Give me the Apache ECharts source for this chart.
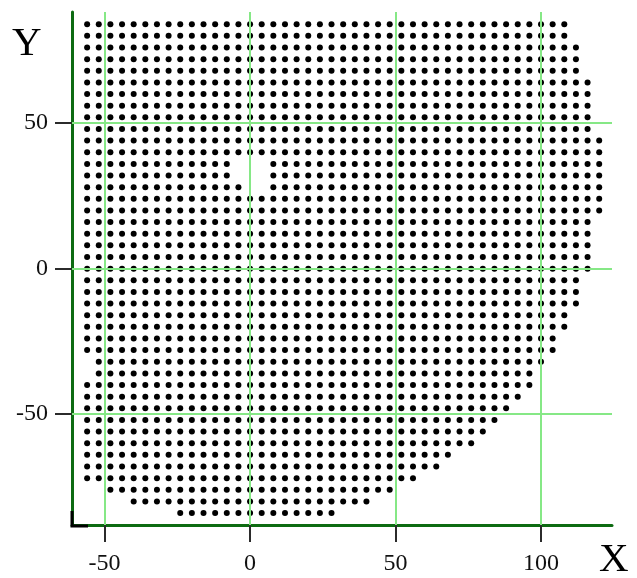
<!DOCTYPE html>
<html>
<head>
<meta charset="utf-8">
<script src="https://cdn.jsdelivr.net/npm/echarts@6/dist/echarts.min.js"></script>
<style>
  html, body { margin: 0; padding: 0; background: #ffffff; }
  #chart { width: 637px; height: 578px; }
</style>
</head>
<body>
<div id="chart"></div>
<script>
// Grid of points, step 4 units; each row: y value, first x, last x
const gridStep = 4;
const rowY    = [84, 80, 76, 72, 68, 64, 60, 56, 52, 48, 44, 40, 36, 32, 28, 24, 20, 16, 12, 8, 4, 0,
                 -4, -8, -12, -16, -20, -24, -28, -32, -36, -40, -44, -48, -52, -56, -60, -64, -68, -72, -76, -80, -84];
const rowXMin = [-56, -56, -56, -56, -56, -56, -56, -56, -56, -56, -56, -56, -56, -56, -56, -56, -56, -56, -56, -56, -56, -56,
                 -56, -56, -56, -56, -56, -56, -56, -52, -52, -56, -56, -56, -56, -56, -56, -56, -56, -56, -48, -40, -24];
const rowXMax = [108, 108, 112, 112, 112, 116, 116, 116, 116, 116, 120, 120, 120, 120, 120, 120, 120, 116, 116, 116, 116, 116,
                 112, 112, 112, 108, 108, 104, 104, 100, 96, 96, 92, 88, 84, 80, 76, 68, 64, 56, 48, 40, 28];
// Missing points (the small gap near x = 0)
const holeX = [-4, 0, 4, -4, 0, 4, 0, 4];
const holeY = [36, 36, 36, 32, 32, 32, 28, 28];

// Axis ticks / grid lines
const xTicks = [-50, 0, 50, 100];
const yTicks = [-50, 0, 50];
const xRange = [-61.2, 124.4];
const yRange = [-88.1, 88.2];

const points = [];
for (let r = 0; r < rowY.length; r++) {
  for (let x = rowXMin[r]; x <= rowXMax[r]; x += gridStep) {
    let isHole = false;
    for (let h = 0; h < holeX.length; h++) {
      if (holeX[h] === x && holeY[h] === rowY[r]) { isHole = true; break; }
    }
    if (!isHole) points.push([x, rowY[r]]);
  }
}

const FONT = 'Liberation Serif';
const axisGreen = '#0d6b12';
const gridGreen = '#86e886';
const tickColor = '#2b2b2b';

const chart = echarts.init(document.getElementById('chart'), null, { renderer: 'canvas' });

const option = {
  animation: false,
  backgroundColor: '#ffffff',
  grid: { left: 72, right: 25, top: 12, bottom: 53, containLabel: false },
  xAxis: [
    {
      type: 'value', min: xRange[0], max: xRange[1], position: 'bottom', z: 3,
      axisLine: { show: true, onZero: false, lineStyle: { color: axisGreen, width: 3 } },
      axisTick: { show: true, inside: false, length: 17, customValues: xTicks, lineStyle: { color: tickColor, width: 2 } },
      axisLabel: { show: true, customValues: xTicks, margin: 27, fontFamily: FONT, fontSize: 24, color: '#111' },
      splitLine: { show: false }
    },
    {
      type: 'value', min: xRange[0], max: xRange[1], position: 'bottom', z: 3,
      axisLine: { show: false, onZero: false },
      axisTick: { show: true, inside: true, length: 10, customValues: xTicks, lineStyle: { color: tickColor, width: 2 } },
      axisLabel: { show: false },
      splitLine: { show: false }
    }
  ],
  yAxis: [
    {
      type: 'value', min: yRange[0], max: yRange[1], position: 'left', z: 3,
      axisLine: { show: true, onZero: false, lineStyle: { color: axisGreen, width: 3 } },
      axisTick: { show: true, inside: false, length: 17, customValues: yTicks, lineStyle: { color: tickColor, width: 2 } },
      axisLabel: { show: true, customValues: yTicks, margin: 24, fontFamily: FONT, fontSize: 24, color: '#111' },
      splitLine: { show: false }
    },
    {
      type: 'value', min: yRange[0], max: yRange[1], position: 'left', z: 3,
      axisLine: { show: false, onZero: false },
      axisTick: { show: true, inside: true, length: 12, customValues: yTicks, lineStyle: { color: tickColor, width: 2 } },
      axisLabel: { show: false },
      splitLine: { show: false }
    }
  ],
  series: [
    {
      type: 'line', data: [], z: 1, silent: true,
      markLine: {
        silent: true, symbol: 'none', animation: false,
        label: { show: false },
        lineStyle: { color: gridGreen, width: 2, type: 'solid', opacity: 1 },
        emphasis: { disabled: true },
        data: xTicks.map(v => ({ xAxis: v })).concat(yTicks.map(v => ({ yAxis: v })))
      }
    },
    {
      type: 'scatter', z: 2, data: points,
      symbol: 'circle', symbolSize: 6,
      itemStyle: { color: '#000000', opacity: 1 },
      emphasis: { disabled: true }
    }
  ],
  graphic: [
    { type: 'polyline', z: 10, shape: { points: [[72, 511], [72, 526], [88, 526]] },
      style: { stroke: '#000', lineWidth: 3, fill: null } },
    { type: 'text', left: 12, top: 24, style: { text: 'Y', font: '41px "Liberation Serif"', fill: '#000' } },
    { type: 'text', left: 599, top: 540, style: { text: 'X', font: '41px "Liberation Serif"', fill: '#000' } }
  ]
};

chart.setOption(option);
</script>
</body>
</html>
